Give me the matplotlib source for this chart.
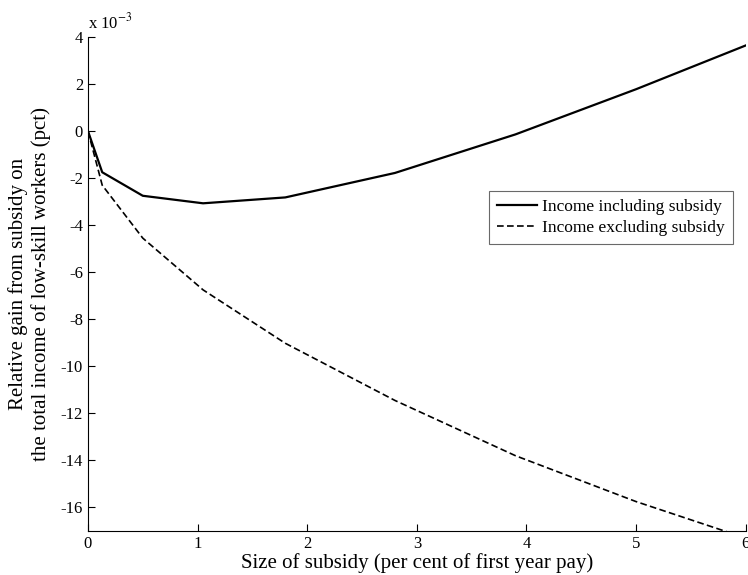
import matplotlib
matplotlib.use("Agg")
import matplotlib.pyplot as plt

plt.rcParams['font.family'] = ['Liberation Serif', 'DejaVu Serif']
plt.rcParams['mathtext.fontset'] = 'stix'
plt.rcParams['axes.unicode_minus'] = False

# subsidy size (per cent of first year pay)
subsidy = [0, 0.13, 0.5, 1.05, 1.8, 2.8, 3.9, 5.0, 6.0]
# relative gain, in units of 1e-3
incl_subsidy = [0, -1.75, -2.75, -3.07, -2.82, -1.78, -0.14, 1.78, 3.64]
excl_subsidy = [0, -2.3, -4.55, -6.75, -9.02, -11.45, -13.8, -15.75, -17.3]

fig = plt.figure(figsize=(7.48, 5.75), dpi=100)
ax = fig.add_axes([0.1176, 0.0765, 0.8794, 0.8592])

ax.plot(subsidy, incl_subsidy, color='black', lw=1.6, ls='-',
        label='Income including subsidy')
ax.plot(subsidy, excl_subsidy, color='black', lw=1.2, ls=(0, (4, 2)),
        label='Income excluding subsidy')

ax.set_xlim(0, 6)
ax.set_ylim(-17, 4)
ax.set_xticks(range(0, 7))
ax.set_yticks(range(-16, 5, 2))
ax.tick_params(direction='in', length=5, labelsize=12, width=0.8)
ax.spines['top'].set_visible(False)
ax.spines['right'].set_visible(False)

ax.text(0.0, 1.01, r'x 10$^{-3}$', transform=ax.transAxes, fontsize=12,
        ha='left', va='bottom')

ax.set_xlabel('Size of subsidy (per cent of first year pay)', fontsize=15, labelpad=1)
ax.set_ylabel('Relative gain from subsidy on\nthe total income of low-skill workers (pct)',
              fontsize=15, labelpad=7)

leg = ax.legend(loc='upper right', bbox_to_anchor=(0.98, 0.688), fontsize=12.5,
                frameon=True, fancybox=False, edgecolor='#444444',
                handlelength=2.3, handletextpad=0.3, borderpad=0.45,
                labelspacing=0.3, borderaxespad=0)
leg.get_frame().set_linewidth(0.8)

fig.savefig('out.png', dpi=100)
